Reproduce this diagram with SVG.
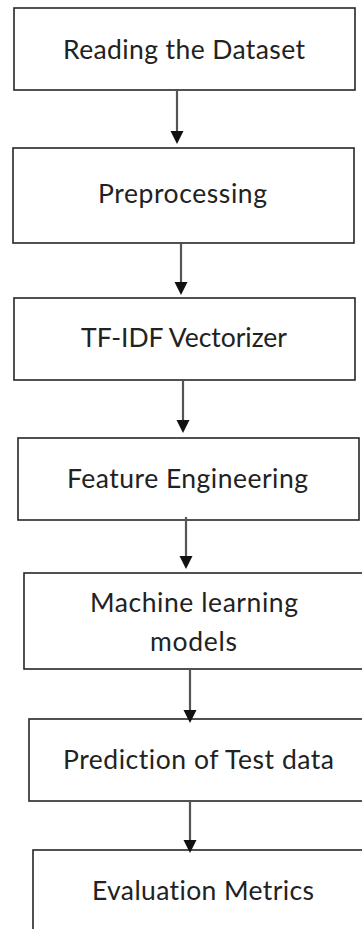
<svg xmlns="http://www.w3.org/2000/svg" width="362" height="929" viewBox="0 0 362 929">
<style>
.box{fill:#ffffff;stroke:#262626;stroke-width:1.6}
.lbl{font-family:Lato,"Open Sans","Liberation Sans",sans-serif;font-size:26.5px;fill:#222222;font-variant-ligatures:none}
.conn{stroke:#555555;stroke-width:2.2;fill:none;marker-end:url(#ah)}
</style>
<defs>
<marker id="ah" markerUnits="userSpaceOnUse" markerWidth="14" markerHeight="14" refX="2" refY="6.5" orient="auto" overflow="visible">
<path d="M0,0 L13,6.5 L0,13 z" fill="#111111"/>
</marker>
</defs>
<rect width="362" height="929" fill="#ffffff"/>
<g id="n1"><rect class="box" x="14" y="8" width="341" height="82"/><text class="lbl" x="63" y="59" textLength="242">Reading the Dataset</text></g>
<g id="n2"><rect class="box" x="13" y="148" width="341" height="95"/><text class="lbl" x="98" y="203" textLength="169">Preprocessing</text></g>
<g id="n3"><rect class="box" x="14" y="298" width="341" height="82"/><text class="lbl" x="81" y="347" textLength="206">TF-IDF Vectorizer</text></g>
<g id="n4"><rect class="box" x="18" y="438" width="341" height="82"/><text class="lbl" x="67" y="488" textLength="241">Feature Engineering</text></g>
<g id="n5"><rect class="box" x="24" y="573" width="345" height="96"/><text class="lbl" x="90" y="612" textLength="208">Machine learning</text><text class="lbl" x="150" y="651" textLength="87">models</text></g>
<g id="n6"><rect class="box" x="29" y="719" width="345" height="82"/><text class="lbl" x="63" y="769" textLength="271">Prediction of Test data</text></g>
<g id="n7"><rect class="box" x="33" y="850" width="345" height="100"/><text class="lbl" x="92" y="900" textLength="222">Evaluation Metrics</text></g>
<g id="connectors">
<line class="conn" x1="177" y1="91" x2="177" y2="133"/>
<line class="conn" x1="181" y1="244" x2="181" y2="284"/>
<line class="conn" x1="183" y1="381" x2="183" y2="422"/>
<line class="conn" x1="186" y1="517" x2="186" y2="558"/>
<line class="conn" x1="190" y1="670" x2="190" y2="712"/>
<line class="conn" x1="190" y1="802" x2="190" y2="842"/>
</g>
</svg>
